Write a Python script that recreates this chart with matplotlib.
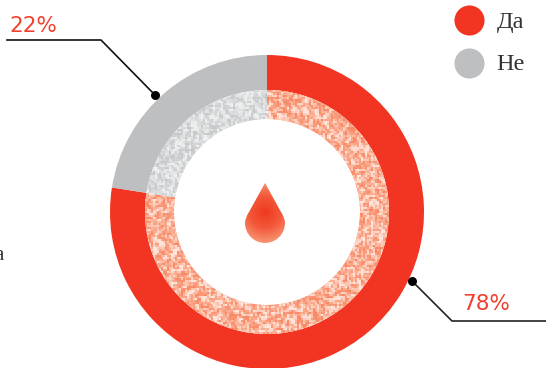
import numpy as np
import matplotlib
matplotlib.use("Agg")
import matplotlib.pyplot as plt
from matplotlib.colors import LinearSegmentedColormap
from matplotlib.path import Path
from matplotlib.patches import PathPatch

labels = ["Да", "Не"]
values = [77.5, 22.5]
colors = ["#f23522", "#bdbfc1"]
pct_labels = ["78%", "22%"]

W, H = 546, 368
fig = plt.figure(figsize=(W / 100, H / 100), dpi=100)
ax = fig.add_axes([0, 0, 1, 1])

cx, cy = 267, H - 212

# outer ring
ax.pie(values, colors=colors, startangle=90, counterclock=False, center=(cx, cy),
       radius=157, wedgeprops=dict(width=35, linewidth=0))
# inner ring, filled with speckle below
inner, _ = ax.pie(values, colors=["#fbb49c", "#dcddde"], startangle=90, counterclock=False,
                  center=(cx, cy), radius=122, wedgeprops=dict(width=29, linewidth=0))

# speckle texture for the inner ring (decoration only, not data)
rng = np.random.default_rng(4)
noise = rng.random((H // 2 + 1, W // 2 + 1))
noise = (noise + np.roll(noise, 1, 0) * 0.4 + np.roll(noise, 1, 1) * 0.4) / 1.8
noise = np.clip((noise - 0.22) / 0.56, 0, 1)
cm_red = LinearSegmentedColormap.from_list("r", ["#f88a68", "#fbb094", "#fee4da"])
cm_grey = LinearSegmentedColormap.from_list("g", ["#c6c8ca", "#dadbdc", "#eff0f0"])
for wedge, cm in zip(inner, [cm_red, cm_grey]):
    im = ax.imshow(noise, extent=(0, W, 0, H), origin="lower", cmap=cm, interpolation="nearest", zorder=3)
    im.set_clip_path(wedge)

# drop in the middle
dx, dy, dr = 265, H - 223, 20
tx, ty = 265, H - 183
k = 0.5523 * dr
verts = [(tx, ty), (dx + 16, dy + 11), (dx + dr, dy + 5), (dx + dr, dy),
         (dx + dr, dy - k), (dx + k, dy - dr), (dx, dy - dr),
         (dx - k, dy - dr), (dx - dr, dy - k), (dx - dr, dy),
         (dx - dr, dy + 5), (dx - 16, dy + 11), (tx, ty), (tx, ty)]
codes = [Path.MOVETO, Path.LINETO, Path.CURVE3, Path.CURVE3,
         Path.CURVE4, Path.CURVE4, Path.CURVE4, Path.CURVE4, Path.CURVE4, Path.CURVE4,
         Path.CURVE3, Path.CURVE3, Path.LINETO, Path.CLOSEPOLY]
drop = PathPatch(Path(verts, codes), facecolor="none", edgecolor="none", zorder=4)
ax.add_patch(drop)
gx, gy = np.meshgrid(np.linspace(240, 290, 100), np.linspace(H - 250, H - 178, 144))
dist = np.sqrt((gx - 265) ** 2 + (gy - (H - 212)) ** 2) / 32
cm_drop = LinearSegmentedColormap.from_list("d", ["#f0381f", "#f3583a", "#f99a78"])
im = ax.imshow(dist, extent=(240, 290, H - 250, H - 178), origin="lower", cmap=cm_drop,
               vmin=0, vmax=1, zorder=4)
im.set_clip_path(drop)

# leader lines
ax.plot([7, 101, 155], [H - 40, H - 40, H - 95], color="#111111", lw=1.2, zorder=5)
ax.plot([412, 452, 546], [H - 281, H - 321, H - 321], color="#222222", lw=1.2, zorder=5)
ax.scatter([155, 412], [H - 95, H - 281], s=42, color="black", linewidth=0, zorder=6)
ax.text(9, H - 32.5, pct_labels[1], color="#f0402e", fontsize=15.5, family="DejaVu Sans", va="baseline")
ax.text(462, H - 310, pct_labels[0], color="#f0402e", fontsize=15.5, family="DejaVu Sans", va="baseline")

# legend
for i, (lab, c) in enumerate(zip(labels, colors)):
    y = H - (20 + 42.5 * i)
    ax.scatter([468.5], [y], s=470, color=c, linewidth=0, zorder=5)
    ax.text(496.5, y, lab, color="#333333", fontsize=17.5, family="Liberation Serif",
            va="center_baseline", ha="left")

# cut off text at the left edge
ax.text(4, H - 260, "а", color="#333333", fontsize=15, family="Liberation Serif", ha="right", va="baseline")

ax.set_xlim(0, W)
ax.set_ylim(0, H)
ax.set_aspect("auto")
ax.axis("off")
fig.savefig("out.png", dpi=100)
